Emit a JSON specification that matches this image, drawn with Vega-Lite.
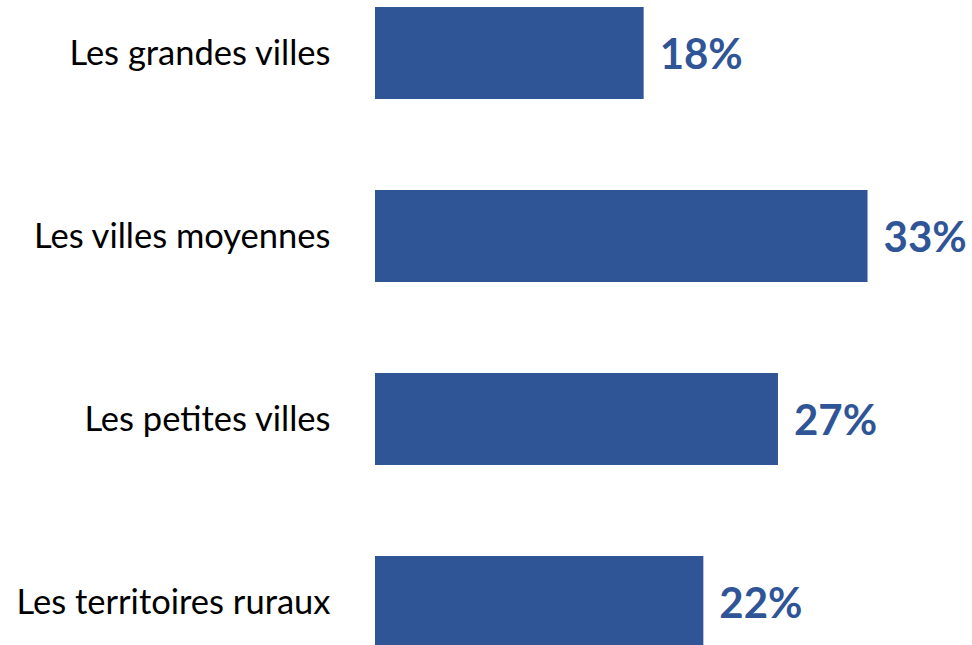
{
  "$schema": "https://vega.github.io/schema/vega-lite/v6.json",
  "autosize": "none",
  "padding": {"left": 375, "top": 0, "right": 0, "bottom": 0},
  "width": 597,
  "height": 655,
  "background": "white",
  "config": {"view": {"stroke": null}},
  "data": {"values": [
    {"cat": "Les grandes villes", "pct": 18},
    {"cat": "Les villes moyennes", "pct": 33},
    {"cat": "Les petites villes", "pct": 27},
    {"cat": "Les territoires ruraux", "pct": 22}
  ]},
  "encoding": {
    "y": {
      "field": "cat", "type": "nominal", "sort": null,
      "scale": {"paddingInner": 0.497, "paddingOuter": 0.038},
      "axis": {"title": null, "ticks": false, "domain": false, "labelPadding": 45, "labelOffset": 2,
               "labelFont": "Lato", "labelFontSize": 34.5, "labelColor": "#000000", "labelLimit": 400}
    },
    "x": {
      "field": "pct", "type": "quantitative",
      "scale": {"domain": [0, 40]},
      "axis": null
    }
  },
  "layer": [
    {"mark": {"type": "bar", "color": "#2F5597"}},
    {"mark": {"type": "text", "align": "left", "baseline": "middle", "dx": 16, "dy": 3,
              "font": "Lato", "fontWeight": "bold", "fontSize": 42, "color": "#2F5597",
              "text": {"expr": "datum.pct + '%'"}}}
  ]
}
